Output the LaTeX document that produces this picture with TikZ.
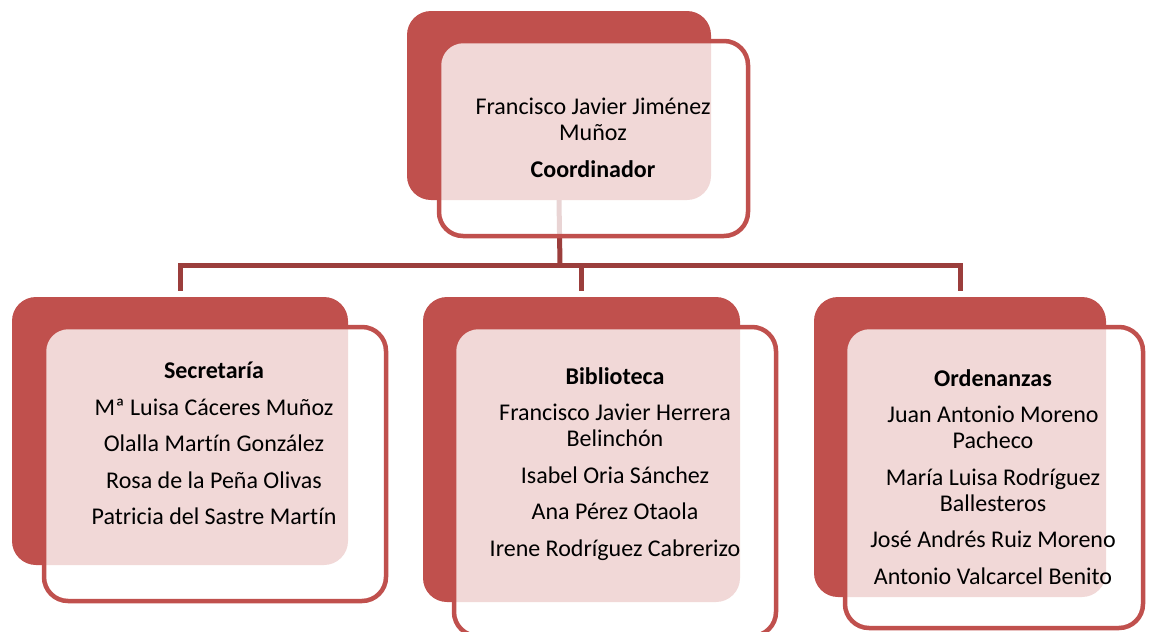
\documentclass[tikz,border=0pt]{standalone}
\usepackage{fontspec}
\setmainfont{Carlito}[Ligatures={NoCommon,NoContextual}]
\definecolor{boxred}{RGB}{192,80,77}
\definecolor{linkred}{RGB}{155,62,60}
\begin{document}
\begin{tikzpicture}[x=1pt,y=-1pt,
  backbox/.style={draw=none,fill=boxred,rounded corners=24pt,inner sep=0pt},
  frontbox/.style={draw=boxred,line width=4.5pt,fill=white,fill opacity=0.78,rounded corners=24pt,inner sep=0pt},
  link/.style={draw=linkred,line width=5pt},
  label/.style={align=center,anchor=base,inner sep=0pt,text=black,
    font=\fontsize{24pt}{26pt}\selectfont}]
\useasboundingbox (0,0) rectangle (1149,632);
\clip (0,0) rectangle (1149,632);
% back boxes
\node[backbox,minimum width=304pt,minimum height=189pt] (topback) at (559,105.5) {};
\node[backbox,minimum width=336pt,minimum height=268pt] (leftback) at (180,431) {};
\node[backbox,minimum width=317pt,minimum height=305pt] (midback) at (581.5,449.5) {};
\node[backbox,minimum width=292pt,minimum height=300pt] (rightback) at (960,447) {};
% connectors
\coordinate (bus) at (560,265);
\draw[link] (topback.south) -- (bus);
\draw[link] ([yshift=6pt]leftback.north) |- (bus) -| ([yshift=6pt]rightback.north);
\draw[link] (bus) -| ([yshift=6pt]midback.north);
% front boxes
\node[frontbox,minimum width=309pt,minimum height=195pt] (topfront) at (593.5,138.5) {};
\node[frontbox,minimum width=342pt,minimum height=274pt] (leftfront) at (215,464) {};
\node[frontbox,minimum width=322pt,minimum height=309pt] (midfront) at (615,481.5) {};
\node[frontbox,minimum width=298pt,minimum height=301pt] (rightfront) at (994,477.5) {};
% texts (anchored at the baseline of their last line)
\node[label] (toptext) at (593,177) {Francisco Javier Jiménez\\ Muñoz\\[11pt] \textbf{Coordinador}};
\node[label] (lefttext) at (214,524.5) {\textbf{Secretaría}\\[10.5pt] Mª Luisa Cáceres Muñoz\\[10.5pt] Olalla Martín González\\[10.5pt] Rosa de la Peña Olivas\\[10.5pt] Patricia del Sastre Martín};
\node[label] (midtext) at (615,556) {\textbf{Biblioteca}\\[10.5pt] Francisco Javier Herrera\\ Belinchón\\[10.5pt] Isabel Oria Sánchez\\[10.5pt] Ana Pérez Otaola\\[10.5pt] Irene Rodríguez Cabrerizo};
\node[label] (righttext) at (993,584) {\textbf{Ordenanzas}\\[10.5pt] Juan Antonio Moreno\\ Pacheco\\[10.5pt] María Luisa Rodríguez\\ Ballesteros\\[10.5pt] José Andrés Ruiz Moreno\\[10.5pt] Antonio Valcarcel Benito};
\end{tikzpicture}
\end{document}
